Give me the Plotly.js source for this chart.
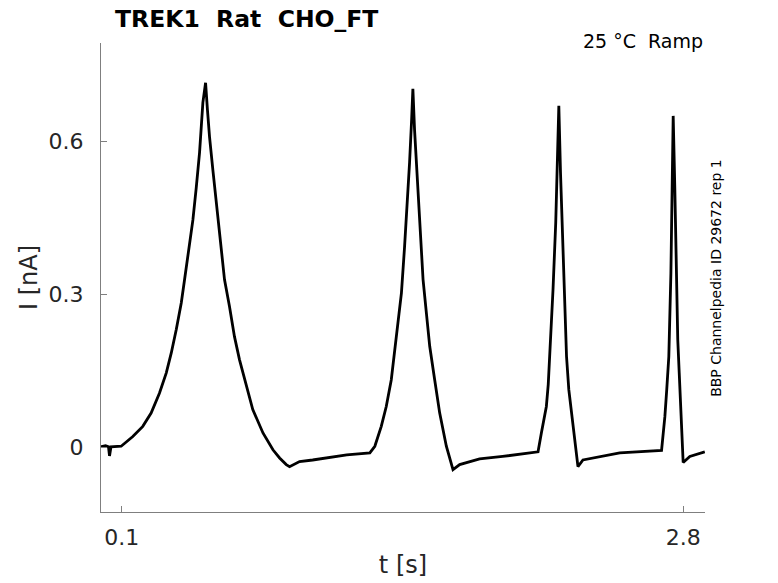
<!DOCTYPE html>
<html>
<head>
<meta charset="utf-8">
<script src="https://cdn.plot.ly/plotly-3.0.1.min.js"></script>
<style>
  html, body { margin: 0; padding: 0; background: #fff; }
  #chart { width: 778px; height: 583px; }
</style>
</head>
<body>
<div id="chart"></div>
<script>
// time (s) and current (nA)
const tValues = [
  0.000, 0.022, 0.036, 0.041, 0.048, 0.097, 0.153, 0.201, 0.241, 0.281,
  0.314, 0.338, 0.362, 0.386, 0.402, 0.421, 0.442, 0.458, 0.474, 0.490,
  0.503, 0.512, 0.522, 0.538, 0.554, 0.570, 0.594, 0.618, 0.642, 0.666,
  0.699, 0.730, 0.779, 0.827, 0.859, 0.891, 0.907, 0.955, 1.018, 1.182,
  1.293, 1.317, 1.348, 1.372, 1.396, 1.412, 1.428, 1.445, 1.460, 1.475,
  1.484, 1.494, 1.500, 1.508, 1.517, 1.533, 1.549, 1.565, 1.581, 1.605,
  1.629, 1.661, 1.693, 1.725, 1.773, 1.821, 1.932, 2.102, 2.118, 2.129,
  2.142, 2.151, 2.158, 2.166, 2.174, 2.187, 2.195, 2.202, 2.210, 2.222,
  2.230, 2.239, 2.250, 2.263, 2.279, 2.294, 2.318, 2.495, 2.696, 2.704,
  2.712, 2.721, 2.731, 2.741, 2.747, 2.752, 2.760, 2.768, 2.774, 2.781,
  2.791, 2.800, 2.832, 2.904
]
const iValues = [
  0.001, 0.003, 0.001, -0.017, 0.001, 0.002, 0.021, 0.041, 0.067, 0.106,
  0.146, 0.185, 0.231, 0.283, 0.329, 0.387, 0.446, 0.509, 0.578, 0.676,
  0.715, 0.662, 0.609, 0.544, 0.480, 0.417, 0.329, 0.276, 0.217, 0.172,
  0.119, 0.074, 0.028, -0.005, -0.021, -0.034, -0.038, -0.028, -0.025, -0.015,
  -0.011, 0.002, 0.041, 0.080, 0.132, 0.185, 0.244, 0.303, 0.393, 0.486,
  0.558, 0.643, 0.703, 0.623, 0.558, 0.427, 0.329, 0.263, 0.198, 0.132,
  0.067, 0.002, -0.044, -0.034, -0.028, -0.023, -0.018, -0.009, 0.028, 0.050,
  0.080, 0.123, 0.178, 0.244, 0.309, 0.440, 0.571, 0.670, 0.539, 0.374,
  0.270, 0.178, 0.113, 0.068, 0.015, -0.038, -0.025, -0.011, -0.006, 0.025,
  0.060, 0.113, 0.178, 0.342, 0.505, 0.650, 0.505, 0.309, 0.211, 0.146,
  0.054, -0.030, -0.018, -0.009
]

const xTicks = [0.1, 2.8]
const yTicks = [0, 0.3, 0.6]
const yTickText = ['0', '0.3', '0.6']

const titleText = 'TREK1\u00a0\u00a0Rat\u00a0\u00a0CHO_FT'
const conditionText = '25 °C\u00a0\u00a0Ramp'
const sourceText = 'BBP Channelpedia ID 29672 rep 1'

const font = 'DejaVu Sans, sans-serif'
const axisGrey = '#7f7f7f'

const trace = {
  x: tValues,
  y: iValues,
  type: 'scatter',
  mode: 'lines',
  line: { color: '#000', width: 2.8 },
  hoverinfo: 'skip',
}

const layout = {
  width: 778,
  height: 583,
  margin: { l: 101, r: 73, t: 43, b: 71 },
  paper_bgcolor: '#fff',
  plot_bgcolor: '#fff',
  showlegend: false,
  font: { family: font, color: '#262626' },
  title: {
    text: '<b>' + titleText + '</b>',
    font: { family: font, size: 23.5, color: '#000' },
    xref: 'container',
    x: 115 / 778,
    xanchor: 'left',
    yref: 'container',
    y: 1 - 19 / 583,
    yanchor: 'middle',
  },
  xaxis: {
    range: [0, 2.905],
    tickvals: xTicks,
    ticktext: xTicks.map(String),
    ticks: 'inside',
    ticklen: 6,
    tickcolor: axisGrey,
    tickfont: { size: 22, color: '#262626' },
    ticklabelstandoff: 6,
    showline: true,
    linecolor: axisGrey,
    linewidth: 1,
    showgrid: false,
    zeroline: false,
    title: { text: 't [s]', font: { size: 24, color: '#262626' }, standoff: 6 },
  },
  yaxis: {
    range: [-0.127, 0.793],
    tickvals: yTicks,
    ticktext: yTickText,
    ticks: 'inside',
    ticklen: 6,
    tickcolor: axisGrey,
    tickfont: { size: 22, color: '#262626' },
    ticklabelstandoff: 12,
    showline: true,
    linecolor: axisGrey,
    linewidth: 1,
    showgrid: false,
    zeroline: false,
    title: { text: 'I [nA]', font: { size: 24, color: '#262626' }, standoff: 4 },
  },
  annotations: [
    {
      text: conditionText,
      xref: 'paper', yref: 'paper',
      x: 1, y: 1.004,
      xanchor: 'right', yanchor: 'middle',
      showarrow: false,
      font: { family: font, size: 19, color: '#000' },
    },
    {
      text: sourceText,
      xref: 'paper', yref: 'paper',
      x: 1.018, y: 0.499,
      xanchor: 'center', yanchor: 'middle',
      textangle: -90,
      showarrow: false,
      font: { family: font, size: 14, color: '#000' },
    },
  ],
}

Plotly.newPlot('chart', [trace], layout, { staticPlot: true, displayModeBar: false })
</script>
</body>
</html>
